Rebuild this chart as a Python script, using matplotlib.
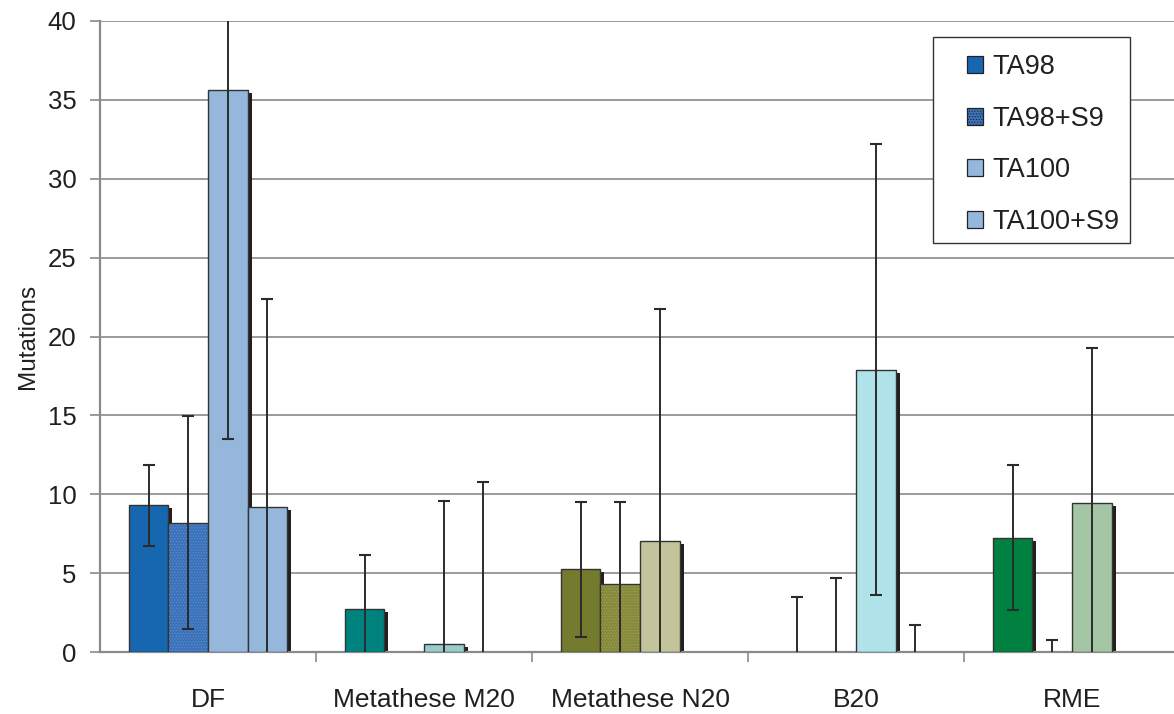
import numpy as np
import matplotlib.pyplot as plt
from matplotlib.patches import Patch, Rectangle
from matplotlib.colors import to_rgb

plt.rcParams['font.family'] = ['Liberation Sans', 'DejaVu Sans']
plt.rcParams['hatch.linewidth'] = 0.5

groups = ['DF', 'Metathese M20', 'Metathese N20', 'B20', 'RME']
series = ['TA98', 'TA98+S9', 'TA100', 'TA100+S9']

# mean mutations per strain, one value per group
ta98 = [9.3, 2.7, 5.25, 0, 7.25]
ta98_s9 = [8.2, 0, 4.3, 0, 0]
ta100 = [35.6, 0.48, 7.05, 17.9, 9.42]
ta100_s9 = [9.2, 0, 0, 0, 0]

# standard deviations
ta98_err = [2.55, 3.43, 4.27, 3.5, 4.6]
ta98_s9_err = [6.75, 0, 5.23, 4.72, 0.76]
ta100_err = [22.1, 9.12, 14.7, 14.28, 9.85]
ta100_s9_err = [13.2, 10.8, 0, 1.72, 0]

# bar colours change per group
ta98_col = ['#1767b0', '#00837e', '#747b2f', '#b0e2ea', '#008140']
ta98_s9_col = ['#3b73bb', '#00837e', '#878a3a', '#b0e2ea', '#008140']
ta100_col = ['#95b7db', '#9acbc9', '#c3c49b', '#b0e2ea', '#a5c6a4']
ta100_s9_col = ['#95b7db', '#9acbc9', '#c3c49b', '#b0e2ea', '#a5c6a4']

values = [ta98, ta98_s9, ta100, ta100_s9]
errors = [ta98_err, ta98_s9_err, ta100_err, ta100_s9_err]
colours = [ta98_col, ta98_s9_col, ta100_col, ta100_s9_col]
dotted = [False, True, False, False]


def lighten(c, f=0.18):
    r = np.array(to_rgb(c))
    return tuple(r + (1 - r) * f)


fig = plt.figure(figsize=(11.74, 7.14), dpi=100, facecolor='w')
ax = fig.add_axes([100 / 1174, 62 / 714, 1080 / 1174, 631 / 714])

x = np.arange(len(groups))
w = 0.183
dx = 4 / 216.0    # shadow offset (right)
dy = 3 / 15.775   # shadow offset (down)

for k in range(4):
    pos = x + (k - 1.5) * w
    v = np.array(values[k])
    e = np.array(errors[k])
    nz = v > 0
    cols = [colours[k][i] for i in range(len(v)) if nz[i]]
    # drop shadow
    ax.bar(pos[nz] + dx, v[nz] - dy, w, color='#231f20', linewidth=0, zorder=2)
    ax.bar(pos[nz], v[nz], w, color=cols, edgecolor='#333333', linewidth=1.0, zorder=3)
    if dotted[k]:
        ax.bar(pos[nz], v[nz] - 0.08, w - 0.004, bottom=0.04, color='none',
               edgecolor=[lighten(c) for c in cols], linewidth=0,
               hatch='......', zorder=3.1)
    # error bars (clipped at zero)
    has = e > 0
    lo = np.minimum(e, v)
    ax.errorbar(pos[has], v[has], yerr=[lo[has], e[has]], fmt='none',
                ecolor='#2b2b2b', elinewidth=1.4, capsize=0, zorder=4)
    ax.plot(pos[has], (v + e)[has], ls='none', marker='_', ms=9, mew=1.5,
            color='#2b2b2b', zorder=4)
    cl = has & (e < v)
    ax.plot(pos[cl], (v - e)[cl], ls='none', marker='_', ms=9, mew=1.5,
            color='#2b2b2b', zorder=4)

ax.set_xlim(-0.5, 4.5)
ax.set_ylim(0, 40)
ax.set_yticks(np.arange(0, 41, 5))
ax.yaxis.grid(True, color='#8a8a8a', linewidth=1.2)
ax.set_axisbelow(True)

ax.set_xticks(x)
ax.set_xticklabels(groups, fontsize=19, color='#231f20')
ax.set_xticks(np.arange(0.5, 4.5, 1), minor=True)
ax.tick_params(axis='x', which='major', length=0, pad=26)
ax.tick_params(axis='x', which='minor', length=7, width=1.2, color='#8a8a8a', direction='out')
ax.tick_params(axis='y', length=7, width=1.2, color='#8a8a8a', labelsize=18.5,
               labelcolor='#231f20', pad=10)

for s in ['top', 'right']:
    ax.spines[s].set_visible(False)
for s in ['left', 'bottom']:
    ax.spines[s].set_color('#8a8a8a')
    ax.spines[s].set_linewidth(1.6)

ax.set_ylabel('Mutations', fontsize=17.5, color='#231f20', labelpad=6)

# legend frame drawn separately (Excel-style uneven padding)
ax.add_patch(Rectangle((933 / 1174, 1 - 243 / 714), 197 / 1174, 206 / 714,
                       transform=fig.transFigure, facecolor='white', clip_on=False,
                       edgecolor='#333333', linewidth=1.0, zorder=5))

handles = []
for k in range(4):
    handles.append(Patch(facecolor=colours[k][0], edgecolor='#222222', linewidth=0.9,
                         hatch='......' if dotted[k] else None, label=series[k]))
leg = ax.legend(handles=handles, loc='upper left',
                bbox_to_anchor=(967 / 1174, 1 - 54 / 714), bbox_transform=fig.transFigure,
                fontsize=19.5, frameon=False, handlelength=0.58, handleheight=0.58,
                handletextpad=0.35, labelspacing=0.95, borderpad=0, borderaxespad=0)
leg.set_zorder(6)
for t in leg.get_texts():
    t.set_color('#231f20')

fig.savefig('out.png', dpi=100)
